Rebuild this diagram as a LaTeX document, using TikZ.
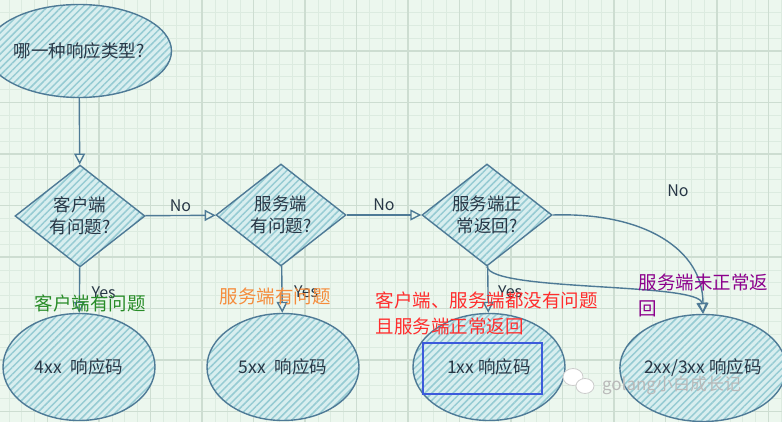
\documentclass[tikz,border=0pt]{standalone}
\usepackage{fontspec}
\setmainfont{Noto Sans CJK SC}
\usetikzlibrary{shapes.geometric,arrows.meta,patterns.meta}

\definecolor{gridBg}{RGB}{236,247,238}
\definecolor{gridMinor}{RGB}{220,235,224}
\definecolor{gridMajor}{RGB}{205,221,209}
\definecolor{shapeLine}{RGB}{78,122,150}
\definecolor{shapeFill}{RGB}{216,238,239}
\definecolor{hatchLine}{RGB}{150,203,211}
\definecolor{shapeText}{RGB}{40,55,70}
\definecolor{clientNote}{RGB}{40,140,40}
\definecolor{serverNote}{RGB}{245,140,60}
\definecolor{okNote}{RGB}{255,45,45}
\definecolor{failNote}{RGB}{140,0,140}
\definecolor{markBox}{RGB}{60,90,220}

\tikzset{
    every picture/.style={line width=1.4pt},
    % hatched sketch look of all shapes
    sketch/.style={
        draw=shapeLine,
        text=shapeText,
        preaction={fill=shapeFill},
        pattern={Lines[angle=45,distance=5pt,line width=1.5pt]},
        pattern color=hatchLine
    },
    question/.style={
        sketch, ellipse, inner sep=0pt,
        minimum width=152, minimum height=93,
        font=\fontsize{17.5}{21}\selectfont
    },
    decision/.style={
        sketch, diamond, aspect=1.27, inner sep=0pt,
        minimum width=130, minimum height=102,
        align=center, font=\fontsize{17.5}{22}\selectfont
    },
    result/.style={
        sketch, ellipse, inner sep=0pt,
        minimum width=152, minimum height=107,
        font=\fontsize{17.5}{21}\selectfont
    },
    conn/.style={
        draw=shapeLine,
        -{Triangle[open,length=11pt,width=11pt]}
    },
    edge label/.style={
        text=shapeText,
        font=\fontsize{16}{20}\selectfont
    },
    note/.style={
        font=\fontsize{18.5}{26}\selectfont,
        align=left, inner sep=0pt
    }
}

\begin{document}
\begin{tikzpicture}[x=1pt,y=-1pt]

% Set the canvas size
\useasboundingbox (0,0) rectangle (782,422);

% grid paper background
\fill[gridBg] (0,0) rectangle (782,422);
\foreach \gx in {0,...,60} {
    \draw[gridMinor, line width=0.7pt] ({8.9+12.875*\gx},0) -- ++(0,422);
}
\foreach \gy in {0,...,33} {
    \draw[gridMinor, line width=0.7pt] (0,{-0.5+12.875*\gy}) -- ++(782,0);
}
\foreach \gx in {0,...,15} {
    \draw[gridMajor, line width=1.1pt] ({47.5+51.5*\gx},0) -- ++(0,422);
}
\foreach \gy in {0,...,8} {
    \draw[gridMajor, line width=1.1pt] (0,{-0.5+51.5*\gy}) -- ++(782,0);
}

% shapes
\node[question] (kind) at (79,51) {哪一种响应类型?};

\node[decision] (client) at (80,216) {客户端\\有问题?};
\node[decision] (server) at (281,215) {服务端\\有问题?};
\node[decision] (normal) at (487,215) {服务端正\\常返回?};

\node[result] (code4) at (79,367) {4xx\enspace 响应码};
\node[result] (code5) at (283,367) {5xx\enspace 响应码};
\node[result] (code1) at (489,367) {1xx 响应码};
\node[result] (code23) at (703,368) {2xx/3xx 响应码};

% connectors
\draw[conn] (kind) -- (client);
\draw[conn] (client) -- node[edge label, above] {No} (server);
\draw[conn] (server) -- node[edge label, above] {No} (normal);

\draw[conn] (client) -- node[edge label, pos=0.55, anchor=west, xshift=8pt] {Yes} (code4);
\draw[conn] (server) -- node[edge label, pos=0.55, anchor=west, xshift=8pt] {Yes} (code5);
\draw[conn] (normal) -- node[edge label, pos=0.55, anchor=west, xshift=6pt] {Yes} (code1);

\draw[conn] (normal.south) .. controls (492,292) and (700,282) .. (code23.north);
\draw[conn] (normal.east) .. controls (645,212) and (703,250) .. (code23.north);
\node[edge label] (nolabel) at (678,191) {No};

% highlight of the 1xx case
\draw[markBox, line width=2.2pt] (423,343) rectangle (542,394);

% coloured notes
\node[note, text=clientNote] (clientnote) at (90,303) {客户端有问题};
\node[note, text=serverNote] (servernote) at (275,296) {服务端有问题};
\node[note, text=okNote, anchor=north west] (oknote) at (375,291)
    {客户端、服务端都没有问题\\且服务端正常返回};
\node[note, text=failNote, anchor=north west] (failnote) at (638,273)
    {服务端未正常返\\回};

% watermark
\fill[white, draw=gray!40, line width=0.8pt] (573,377) ellipse (10 and 8.5);
\fill[white, draw=gray!40, line width=0.8pt] (585,386) ellipse (9 and 7.5);
\node[text=gray!55, font=\fontsize{17}{20}\selectfont, anchor=west] (mark) at (598,385) {golang小白成长记};

\end{tikzpicture}
\end{document}
